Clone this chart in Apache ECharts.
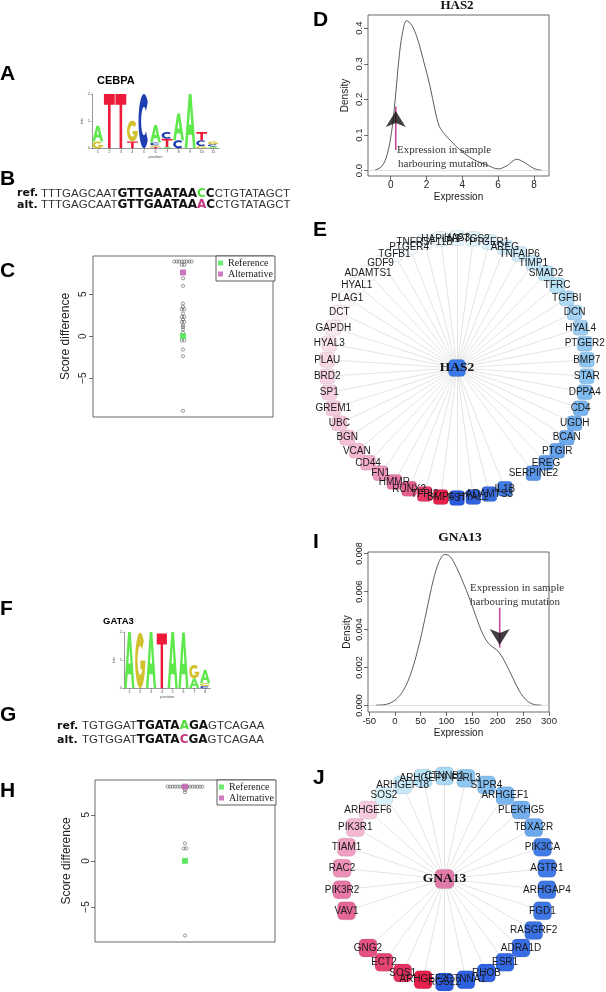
<!DOCTYPE html>
<html><head><meta charset="utf-8">
<style>html,body{margin:0;padding:0;background:#fff}#c{width:606px;height:992px}</style>
<script src="https://cdn.jsdelivr.net/npm/echarts@6/dist/echarts.min.js"></script>
</head><body><div id="c"></div>
<script>
// ---------------- DATA ----------------
// Sequence logos: per position, [letter, bits] from bottom to top
const logoCEBPA = [
  [['G',0.25],['A',0.58]], [['T',2.0]], [['T',2.0]], [['T',0.25],['G',0.77]], [['C',2.0]],
  [['T',0.05],['G',0.06],['C',0.1],['A',0.65]], [['A',0.05],['T',0.3],['C',0.25]],
  [['C',0.3],['A',0.98]], [['A',2.0]], [['G',0.08],['C',0.22],['T',0.3]], [['A',0.07],['C',0.08],['G',0.1]]
];
const logoGATA3 = [
  [['A',2.0]], [['G',1.98]], [['A',2.0]], [['T',1.95]], [['A',2.0]], [['A',1.98]],
  [['A',0.35],['G',0.48]], [['C',0.08],['G',0.1],['A',0.47]]
];
const logoTicksA = [1,2,3,4,5,6,7,8,9,10,11];
const logoTicksF = [1,2,3,4,5,6,7,8];
const bitTicks = [0,1,2];

// Sequences: [style class, text]
const seqBRef = [['n','TTTGAGCAAT'],['b','GTTGAATAA'],['g','C'],['b','C'],['n','CTGTATAGCT']];
const seqBAlt = [['n','TTTGAGCAAT'],['b','GTTGAATAA'],['p','A'],['b','C'],['n','CTGTATAGCT']];
const seqGRef = [['n','TGTGGAT'],['b','TGATA'],['g','A'],['b','GA'],['n','GTCAGAA']];
const seqGAlt = [['n','TGTGGAT'],['b','TGATA'],['p','C'],['b','GA'],['n','GTCAGAA']];

// Score difference strip charts
const scoresC = [8.9,8.9,8.9,8.9,8.9,8.9,8.9,8.9,8.5,8.5,7.6,6.9,6.0,3.9,3.5,3.2,3.2,2.7,2.3,2.3,2.0,1.7,1.7,1.3,1.1,0.8,0.4,0,-0.5,-0.5,-1.6,-2.4,-8.9];
const refC = [0];
const altC = [7.6];
const scoresH = [8.05,8.05,8.05,8.05,8.05,8.05,8.05,8.05,8.05,8.05,8.05,8.05,8.05,8.05,8.05,7.7,7.45,1.9,1.35,1.35,0,-8.1];
const refH = [0];
const altH = [8.05];
const scoreTicks = [-5,0,5];

// Density of HAS2 expression
const expD = [-0.87,-0.5,-0.2,0.05,0.25,0.45,0.65,0.89,1.15,1.45,1.82,2.2,2.47,2.72,3.0,3.31,3.87,4.6,5.36,6.0,6.5,7.03,7.5,8.0,8.43];
const denD = [0.002,0.012,0.045,0.11,0.2,0.31,0.385,0.421,0.41,0.377,0.311,0.236,0.17,0.124,0.103,0.086,0.058,0.032,0.016,0.005,0.014,0.032,0.022,0.006,0.001];
const arrowD = [0.28, 0.058, 0.19];      // x, shaft start, tip
const xTicksD = [0,2,4,6,8];
const yTicksD = [0,0.1,0.2,0.3,0.4];

// Density of GNA13 expression
const expI = [-37,-16,0,16.1,32.3,48.5,61.5,74.4,86.1,97,106.8,119.8,132.8,145.7,158.7,171.7,184.6,197.6,207.3,217,230,243,256,269,285];
const denI = [0.00002,0.00007,0.00028,0.00078,0.00179,0.00338,0.00497,0.00657,0.00758,0.00795,0.00786,0.00727,0.00648,0.0056,0.00462,0.00373,0.0032,0.00294,0.00262,0.00214,0.00143,0.00073,0.00028,0.00007,0.00002];
const arrowI = [204, 0.00515, 0.00276];
const xTicksI = [-50,0,50,100,150,200,250,300];
const yTicksI = [0,0.002,0.004,0.006,0.008];

// Networks: ring order (empty string = empty slot) and fold-change like values
const ringE = ['FST','BMP6','TFPI2','RUNX2','HMMR','FN1','CD44','VCAN','BGN','UBC','GREM1','SP1','BRD2','PLAU','HYAL3','GAPDH','DCT','PLAG1','HYAL1','ADAMTS1','GDF9','TGFB1','PTGER4','TNFRSF11B','HAPLN1','HAS3','PTGS2','PTGER1','AREG','TNFAIP6','TIMP1','SMAD2','TFRC','TGFBI','DCN','HYAL4','PTGER2','BMP7','STAR','DPPA4','CD4','UGDH','BCAN','PTGIR','EREG','SERPINE2','','IL1B','ADAMTS3','HYAL2'];
const valE = [1.0,-1.0,-0.9,-0.72,-0.6,-0.5,-0.42,-0.38,-0.35,-0.32,-0.3,-0.28,-0.26,-0.24,-0.2,-0.15,-0.08,-0.04,0,0.02,0.03,0.05,0.08,0.1,0.13,0.17,0.2,0.24,0.28,0.3,0.33,0.38,0.4,0.44,0.48,0.5,0.53,0.55,0.57,0.6,0.63,0.65,0.67,0.7,0.72,0.75,null,0.85,0.92,0.97];
const ringJ = ['RGS22','ARHGEF2','SOS1','ECT2','GNG2','','VAV1','PIK3R2','RAC2','TIAM1','PIK3R1','ARHGEF6','SOS2','ARHGEF18','ARHGEF9','CTNNB1','F2RL3','S1PR4','ARHGEF1','PLEKHG5','TBXA2R','PIK3CA','AGTR1','ARHGAP4','FGD1','RASGRF2','ADRA1D','ESR1','RHOB','CTNNA1'];
const valJ = [1.0,-1.0,-0.92,-0.85,-0.78,null,-0.68,-0.6,-0.52,-0.47,-0.38,-0.3,0.25,0.33,0.4,0.45,0.55,0.58,0.62,0.65,0.68,0.85,0.86,0.87,0.88,0.9,0.92,0.94,0.96,0.98];

// ---------------- HELPERS ----------------
const LOGO_COLORS = {A:'#5fe84c', C:'#1d3db0', G:'#d2c12e', T:'#ee1a3a'};
const LETTERS = 'ACGT';
function arcPts(r, a0, a1) {
  const pts = []; const n = 24;
  for (let i = 0; i <= n; i++) {
    const a = (a0 + (a1 - a0) * i / n) * Math.PI / 180;
    pts.push([0.5 + r * Math.cos(a), 0.5 - r * Math.sin(a)]);
  }
  return pts;
}
const SHAPES = {
  T: [[[0,0],[1,0],[1,0.2],[0.62,0.2],[0.62,1],[0.38,1],[0.38,0.2],[0,0.2]]],
  A: [[[0,1],[0.37,0],[0.63,0],[1,1],[0.76,1],[0.67,0.75],[0.33,0.75],[0.24,1]], [[0.4,0.56],[0.6,0.56],[0.5,0.26]]],
  C: [arcPts(0.5, 45, 315).concat(arcPts(0.26, 315, 45))],
  G: [arcPts(0.5, 45, 360).concat([[0.52,0.5],[0.52,0.66],[0.74,0.66]]).concat(arcPts(0.26, 325, 45))]
};
function letterPath(ch, x, y, w, h) {
  return SHAPES[ch].map(poly => 'M' + poly.map(p => (x + p[0]*w).toFixed(2) + ' ' + (y + p[1]*h).toFixed(2)).join('L') + 'Z').join('');
}
function logoData(logo) {
  const out = [];
  logo.forEach((col, i) => { let y = 0; col.forEach(([l, b]) => { out.push([i + 1, y, y + b, LETTERS.indexOf(l)]); y += b; }); });
  return out;
}
function renderLetter(params, api) {
  const pos = api.value(0), y0 = api.value(1), y1 = api.value(2), li = api.value(3);
  const tl = api.coord([pos - 0.47, y1]);
  const br = api.coord([pos + 0.47, y0]);
  const ch = LETTERS[li];
  return {type:'path', shape:{pathData: letterPath(ch, tl[0], tl[1], br[0]-tl[0], br[1]-tl[1])}, style:{fill: LOGO_COLORS[ch]}};
}
function stackStrip(vals) {
  const counts = {}; vals.forEach(v => counts[v] = (counts[v] || 0) + 1);
  const seen = {};
  return vals.map(v => { seen[v] = seen[v] === undefined ? 0 : seen[v] + 1; return [seen[v] - (counts[v] - 1) / 2, v]; });
}
const STOPS = [[-1,'#e8204c'],[-0.8,'#e44e7e'],[-0.6,'#e878a8'],[-0.4,'#f3b4cf'],[-0.2,'#fae0eb'],[0,'#ffffff'],[0.2,'#e2f4fb'],[0.4,'#b8e2f6'],[0.6,'#80bcf0'],[0.8,'#4a88e8'],[1,'#2a5ae0']];
function hex(c){return [parseInt(c.slice(1,3),16),parseInt(c.slice(3,5),16),parseInt(c.slice(5,7),16)];}
function colorFor(v) {
  for (let i = 0; i < STOPS.length - 1; i++) {
    const [a, ca] = STOPS[i], [b, cb] = STOPS[i+1];
    if (v >= a && v <= b) {
      const t = (v - a) / (b - a), A = hex(ca), B = hex(cb);
      return 'rgb(' + A.map((x, k) => Math.round(x + (B[k] - x) * t)).join(',') + ')';
    }
  }
  return v < 0 ? STOPS[0][1] : STOPS[STOPS.length-1][1];
}
function ringGraph(ring, vals, centerName, centerColor, polarIndex, size, centerSize) {
  const nodes = [{name:centerName, value:[0,0], symbolSize:centerSize, itemStyle:{color:centerColor},
    label:{fontFamily:'Liberation Serif', fontWeight:'bold', fontSize:13.5, color:'#111'}, z:5}];
  const links = [];
  ring.forEach((g, i) => {
    if (!g) return;
    nodes.push({name:g, value:[1, i], itemStyle:{color: colorFor(vals[i])}});
    links.push({source:0, target:nodes.length - 1});
  });
  return {type:'graph', coordinateSystem:'polar', polarIndex, symbol:'roundRect', symbolSize:size,
    data:nodes, links, silent:true,
    lineStyle:{color:'#cdcdcd', width:0.55, opacity:1, curveness:0},
    itemStyle:{borderColor:'rgba(0,0,0,0.15)', borderWidth:0.6},
    label:{show:true, position:'inside', fontFamily:'Liberation Sans', fontSize:10, color:'#1a1a1a'},
    emphasis:{disabled:true}};
}
const rich = parts => parts.map(([k, t]) => '{' + k + '|' + t + '}').join('');
const RICH = {
  n:{fontFamily:'Liberation Sans', fontSize:11.5, fill:'#333'},
  b:{fontFamily:'DejaVu Sans', fontWeight:'bold', fontSize:12, fill:'#111'},
  g:{fontFamily:'DejaVu Sans', fontWeight:'bold', fontSize:12, fill:'#52dc3c'},
  p:{fontFamily:'DejaVu Sans', fontWeight:'bold', fontSize:12, fill:'#c4367e'}
};
const AX = '#333';
const tick = {show:true, inside:false, length:4, lineStyle:{color:AX, width:0.7}};
const noLine = {show:false, onZero:false};
function minusFmt(v){ return v < 0 ? '\u2212' + (-v) : String(v); }

function logoX(gi, ticks) {
  return {gridIndex:gi, type:'value', min:0.5, max:ticks.length + 0.5,
    axisLine:{show:true, onZero:false, lineStyle:{color:'#555', width:0.6}},
    axisTick:{show:true, length:1.5, customValues:ticks, lineStyle:{color:'#555', width:0.5}},
    axisLabel:{show:true, customValues:ticks, fontSize:4, margin:2, color:'#555'},
    splitLine:{show:false}, name:'position', nameLocation:'middle', nameGap:7, nameTextStyle:{fontSize:4, color:'#555'}};
}
function logoY(gi) {
  return {gridIndex:gi, type:'value', min:0, max:2,
    axisLine:{show:true, onZero:false, lineStyle:{color:'#555', width:0.6}},
    axisTick:{show:true, length:1.5, customValues:bitTicks, lineStyle:{color:'#555', width:0.5}},
    axisLabel:{show:true, customValues:bitTicks, fontSize:4, margin:2, color:'#555'},
    splitLine:{show:false}, name:'bits', nameLocation:'middle', nameGap:6, nameTextStyle:{fontSize:4, color:'#555'}};
}
const gridBox = {show:true, borderColor:'#444', borderWidth:0.8, backgroundColor:'transparent'};

const option = {
  animation:false,
  backgroundColor:'#fff',
  textStyle:{fontFamily:'Liberation Sans'},
  grid:[
    {left:92, top:94, width:127, height:54.3},
    {left:124, top:632, width:86.5, height:56.3},
    Object.assign({left:93, top:256, width:180, height:161}, gridBox),
    Object.assign({left:368, top:15, width:181, height:161}, gridBox),
    Object.assign({left:95, top:780, width:180, height:162}, gridBox),
    Object.assign({left:368, top:552, width:181, height:160}, gridBox)
  ],
  xAxis:[
    logoX(0, logoTicksA),
    logoX(1, logoTicksF),
    {gridIndex:2, type:'value', min:-36, max:36, show:false, axisLine:noLine},
    {gridIndex:3, type:'value', min:-1.27, max:8.84, position:'bottom', axisLine:noLine, axisTick:Object.assign({customValues:xTicksD}, tick),
      axisLabel:{customValues:xTicksD, fontSize:10, color:'#222', margin:4}, splitLine:{show:false},
      name:'Expression', nameLocation:'middle', nameGap:16, nameTextStyle:{fontSize:10, color:'#222'}},
    {gridIndex:4, type:'value', min:-36, max:36, show:false, axisLine:noLine},
    {gridIndex:5, type:'value', min:-52.5, max:300, position:'bottom', axisLine:noLine, axisTick:Object.assign({customValues:xTicksI}, tick),
      axisLabel:{customValues:xTicksI, fontSize:9.5, color:'#222', margin:4}, splitLine:{show:false},
      name:'Expression', nameLocation:'middle', nameGap:16, nameTextStyle:{fontSize:10, color:'#222'}}
  ],
  yAxis:[
    logoY(0),
    logoY(1),
    {gridIndex:2, type:'value', min:-9.64, max:9.56, position:'left', axisLine:noLine, axisTick:Object.assign({customValues:scoreTicks}, tick),
      axisLabel:{customValues:scoreTicks, formatter:minusFmt, rotate:90, fontSize:10, color:'#222', margin:5}, splitLine:{show:false},
      name:'Score difference', nameLocation:'middle', nameGap:21, nameTextStyle:{fontSize:12, color:'#222'}},
    {gridIndex:3, type:'value', min:-0.015, max:0.437, position:'left', axisLine:noLine, axisTick:Object.assign({customValues:yTicksD}, tick),
      axisLabel:{customValues:yTicksD, formatter:v => v.toFixed(1), rotate:90, fontSize:9.5, color:'#222', margin:4}, splitLine:{show:false},
      name:'Density', nameLocation:'middle', nameGap:18, nameTextStyle:{fontSize:10, color:'#222'}},
    {gridIndex:4, type:'value', min:-8.8, max:8.77, position:'left', axisLine:noLine, axisTick:Object.assign({customValues:scoreTicks}, tick),
      axisLabel:{customValues:scoreTicks, formatter:minusFmt, rotate:90, fontSize:10, color:'#222', margin:4}, splitLine:{show:false},
      name:'Score difference', nameLocation:'middle', nameGap:22, nameTextStyle:{fontSize:12, color:'#222'}},
    {gridIndex:5, type:'value', min:-0.00034, max:0.00808, position:'left', axisLine:noLine, axisTick:Object.assign({customValues:yTicksI}, tick),
      axisLabel:{customValues:yTicksI, formatter:v => v.toFixed(3), rotate:90, fontSize:9, color:'#222', margin:4}, splitLine:{show:false},
      name:'Density', nameLocation:'middle', nameGap:16, nameTextStyle:{fontSize:10, color:'#222'}}
  ],
  polar:[{center:[457, 368], radius:130}, {center:[444.5, 879], radius:103}],
  angleAxis:[
    {polarIndex:0, type:'value', min:0, max:ringE.length, startAngle:270, clockwise:true, show:false},
    {polarIndex:1, type:'value', min:0, max:ringJ.length, startAngle:270, clockwise:true, show:false}
  ],
  radiusAxis:[
    {polarIndex:0, type:'value', min:0, max:1, show:false},
    {polarIndex:1, type:'value', min:0, max:1, show:false}
  ],
  legend:[
    {data:['Reference','Alternative'], left:216, top:256, orient:'vertical', icon:'rect', itemWidth:5, itemHeight:5, itemGap:1,
      padding:[2,2,2,2], borderColor:'#333', borderWidth:0.8, backgroundColor:'#fff', selectedMode:false,
      textStyle:{fontFamily:'Liberation Serif', fontSize:10, color:'#222', lineHeight:10}},
    {data:['Reference','Alternative'], left:217, top:780, orient:'vertical', icon:'rect', itemWidth:5, itemHeight:5, itemGap:1,
      padding:[2,2,2,2], borderColor:'#333', borderWidth:0.8, backgroundColor:'#fff', selectedMode:false,
      textStyle:{fontFamily:'Liberation Serif', fontSize:10, color:'#222', lineHeight:10}}
  ],
  series:[
    {type:'custom', xAxisIndex:0, yAxisIndex:0, data:logoData(logoCEBPA), renderItem:renderLetter, encode:{x:0, y:[1,2]}, clip:false, silent:true},
    {type:'custom', xAxisIndex:1, yAxisIndex:1, data:logoData(logoGATA3), renderItem:renderLetter, encode:{x:0, y:[1,2]}, clip:false, silent:true},

    {name:'Scores C', type:'scatter', xAxisIndex:2, yAxisIndex:2, data:stackStrip(scoresC), symbol:'circle', symbolSize:3.2,
      itemStyle:{color:'rgba(255,255,255,0)', borderColor:'#333', borderWidth:0.6}, silent:true, z:2},
    {name:'Reference', type:'scatter', xAxisIndex:2, yAxisIndex:2, data:refC.map(v => [0, v]), symbol:'rect', symbolSize:6, itemStyle:{color:'#48e848'}, z:3},
    {name:'Alternative', type:'scatter', xAxisIndex:2, yAxisIndex:2, data:altC.map(v => [0, v]), symbol:'rect', symbolSize:6, itemStyle:{color:'#c45cb4'}, z:3},

    {type:'line', xAxisIndex:3, yAxisIndex:3, data:expD.map((x, i) => [x, denD[i]]), smooth:0.35, symbol:'none',
      lineStyle:{color:'#333', width:0.8}, silent:true,
      markLine:{silent:true, symbol:'none', data:[{yAxis:0}], lineStyle:{color:'#c8c8c8', width:0.6, type:'solid'}, label:{show:false}}},
    {type:'line', xAxisIndex:3, yAxisIndex:3, data:[[arrowD[0], arrowD[1]], [arrowD[0], arrowD[2] - 0.01]], symbol:'none',
      lineStyle:{color:'#c8489a', width:1.6}, silent:true, z:3},
    {type:'scatter', xAxisIndex:3, yAxisIndex:3, data:[[arrowD[0], arrowD[2]]], symbol:'arrow', symbolSize:[15,16], symbolOffset:[0,'50%'],
      itemStyle:{color:'#111'}, silent:true, z:4},

    {name:'Scores H', type:'scatter', xAxisIndex:4, yAxisIndex:4, data:stackStrip(scoresH), symbol:'circle', symbolSize:3.2,
      itemStyle:{color:'rgba(255,255,255,0)', borderColor:'#333', borderWidth:0.6}, silent:true, z:2},
    {name:'Reference', type:'scatter', xAxisIndex:4, yAxisIndex:4, data:refH.map(v => [0, v]), symbol:'rect', symbolSize:6, itemStyle:{color:'#48e848'}, z:3},
    {name:'Alternative', type:'scatter', xAxisIndex:4, yAxisIndex:4, data:altH.map(v => [0, v]), symbol:'rect', symbolSize:6, itemStyle:{color:'#c45cb4'}, z:3},

    {type:'line', xAxisIndex:5, yAxisIndex:5, data:expI.map((x, i) => [x, denI[i]]), smooth:0.35, symbol:'none',
      lineStyle:{color:'#333', width:0.8}, silent:true,
      markLine:{silent:true, symbol:'none', data:[{yAxis:0}], lineStyle:{color:'#c8c8c8', width:0.6, type:'solid'}, label:{show:false}}},
    {type:'line', xAxisIndex:5, yAxisIndex:5, data:[[arrowI[0], arrowI[1]], [arrowI[0], arrowI[2] + 0.0003]], symbol:'none',
      lineStyle:{color:'#c8489a', width:1.6}, silent:true, z:3},
    {type:'scatter', xAxisIndex:5, yAxisIndex:5, data:[[arrowI[0], arrowI[2]]], symbol:'arrow', symbolSize:[15,16], symbolOffset:[0,'-50%'], symbolRotate:180,
      itemStyle:{color:'#111'}, silent:true, z:4},

    ringGraph(ringE, valE, 'HAS2', '#3a78e8', 0, 15, 17),
    ringGraph(ringJ, valJ, 'GNA13', '#e07aa8', 1, 18, 19)
  ],
  graphic:{elements:[
    // panel letters
    ...[['A',0,74.5],['B',0,179.5],['C',0,271.5],['D',313,20],['E',313,230.5],['F',0,609.5],['G',0,715],['H',0,791.5],['I',313,542.5],['J',313,778]]
      .map(([t, x, y]) => ({type:'text', x, y, style:{text:t, font:'bold 21px "Liberation Sans"', fill:'#000', verticalAlign:'middle', textVerticalAlign:'middle'}})),
    // logo titles
    {type:'text', x:97, y:81, style:{text:'CEBPA', font:'bold 11px "Liberation Sans"', fill:'#000', verticalAlign:'middle', textVerticalAlign:'middle'}},
    {type:'text', x:103, y:621, style:{text:'GATA3', font:'bold 9.5px "Liberation Sans"', fill:'#000', verticalAlign:'middle', textVerticalAlign:'middle'}},
    // sequences
    {type:'text', x:17, y:193.5, style:{text:'ref.', font:'bold 11px "DejaVu Sans"', fill:'#111', verticalAlign:'middle', textVerticalAlign:'middle'}},
    {type:'text', x:41, y:193.5, style:{text:rich(seqBRef), rich:RICH, verticalAlign:'middle', textVerticalAlign:'middle'}},
    {type:'text', x:17, y:205, style:{text:'alt.', font:'bold 11px "DejaVu Sans"', fill:'#111', verticalAlign:'middle', textVerticalAlign:'middle'}},
    {type:'text', x:41, y:205, style:{text:rich(seqBAlt), rich:RICH, verticalAlign:'middle', textVerticalAlign:'middle'}},
    {type:'text', x:57, y:726, style:{text:'ref.', font:'bold 11px "DejaVu Sans"', fill:'#111', verticalAlign:'middle', textVerticalAlign:'middle'}},
    {type:'text', x:82, y:726, style:{text:rich(seqGRef), rich:RICH, verticalAlign:'middle', textVerticalAlign:'middle'}},
    {type:'text', x:57, y:740, style:{text:'alt.', font:'bold 11px "DejaVu Sans"', fill:'#111', verticalAlign:'middle', textVerticalAlign:'middle'}},
    {type:'text', x:82, y:740, style:{text:rich(seqGAlt), rich:RICH, verticalAlign:'middle', textVerticalAlign:'middle'}},
    // plot titles
    {type:'text', x:457, y:6, style:{text:'HAS2', font:'bold 13px "Liberation Serif"', fill:'#111', align:'center', textAlign:'center', verticalAlign:'middle', textVerticalAlign:'middle'}},
    {type:'text', x:460, y:537.5, style:{text:'GNA13', font:'bold 13.5px "Liberation Serif"', fill:'#111', align:'center', textAlign:'center', verticalAlign:'middle', textVerticalAlign:'middle'}},
    // annotations
    {type:'text', x:397, y:150, style:{text:'Expression in sample', font:'11px "Liberation Serif"', fill:'#333', verticalAlign:'middle', textVerticalAlign:'middle'}, z:10},
    {type:'text', x:398, y:164, style:{text:'harbouring mutation', font:'11px "Liberation Serif"', fill:'#333', verticalAlign:'middle', textVerticalAlign:'middle'}, z:10},
    {type:'text', x:470, y:588.5, style:{text:'Expression in sample', font:'11px "Liberation Serif"', fill:'#333', verticalAlign:'middle', textVerticalAlign:'middle'}, z:10},
    {type:'text', x:470, y:602.5, style:{text:'harbouring mutation', font:'11px "Liberation Serif"', fill:'#333', verticalAlign:'middle', textVerticalAlign:'middle'}, z:10}
  ]}
};
const chart = echarts.init(document.getElementById('c'), null, {renderer:'canvas', width:606, height:992});
chart.setOption(option);
</script>
</body></html>
